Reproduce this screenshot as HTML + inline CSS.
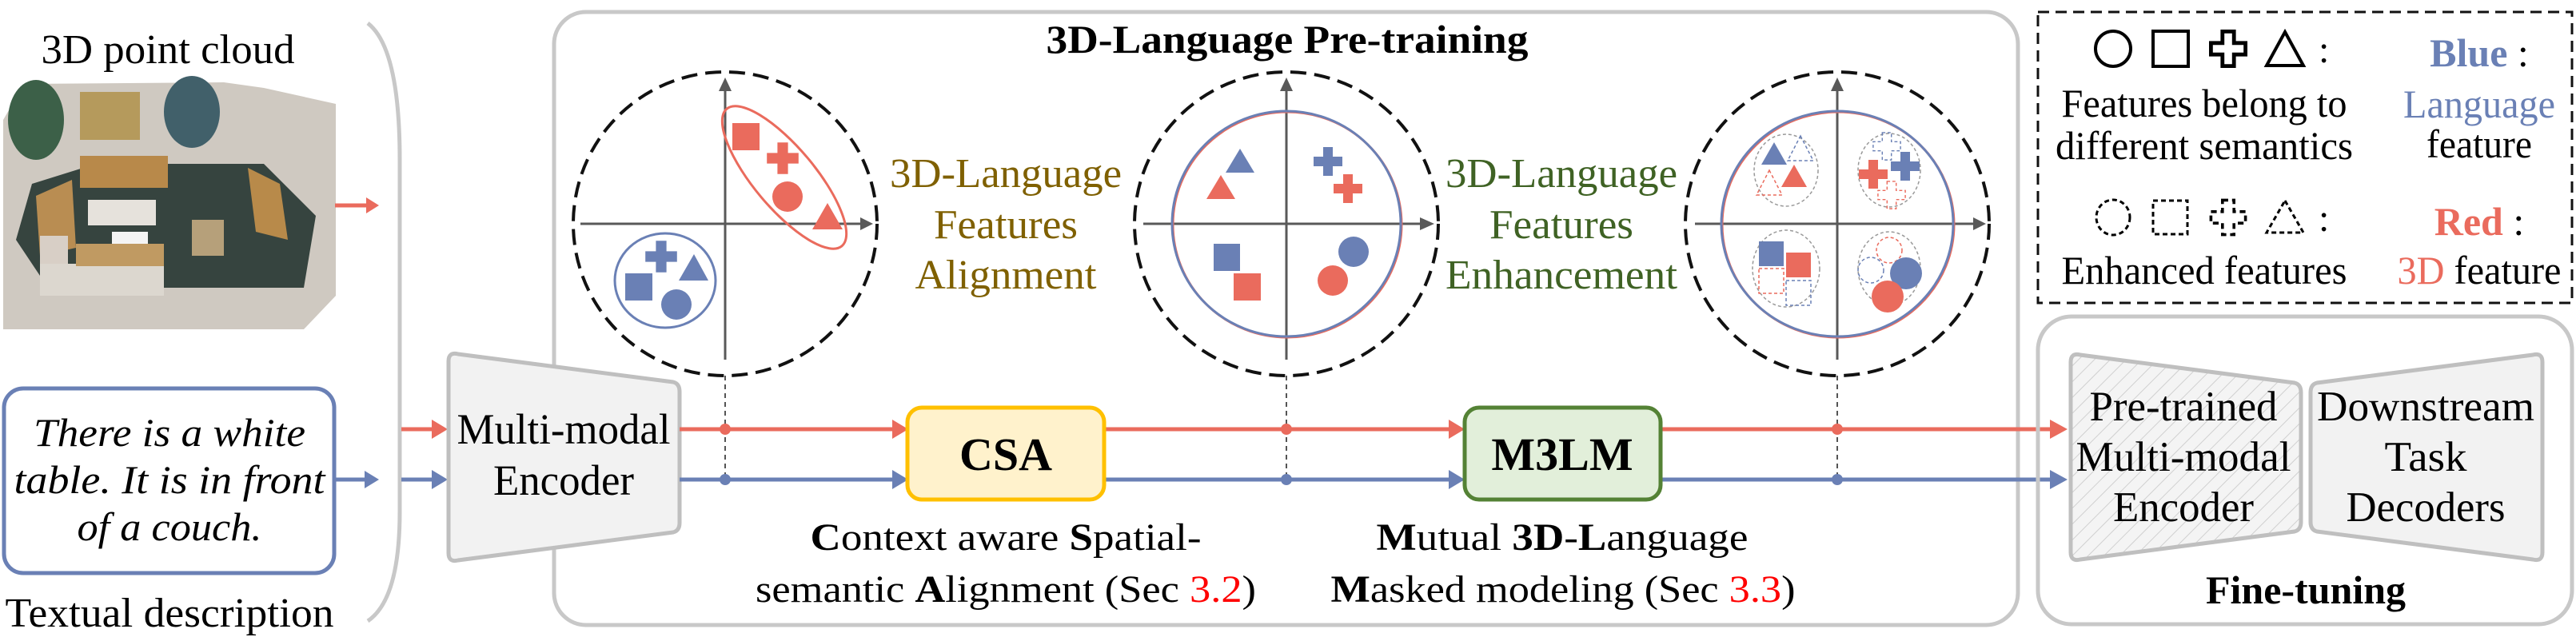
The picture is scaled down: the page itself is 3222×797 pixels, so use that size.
<!DOCTYPE html>
<html><head><meta charset="utf-8"><style>
html,body{margin:0;padding:0;background:#fff;}
svg{display:block;}
svg text{font-family:"Liberation Serif","Times New Roman","Tinos","Noto Serif CJK SC","DejaVu Serif",serif;}
</style></head><body>
<svg width="3222" height="797" viewBox="0 0 3222 797" xmlns="http://www.w3.org/2000/svg">
<defs>
<path id="cr" d="M-6,-18 h12 v12 h12 v12 h-12 v12 h-12 v-12 h-12 v-12 h12z"/>
<pattern id="hatch" width="14" height="14" patternUnits="userSpaceOnUse" patternTransform="rotate(45)">
<rect width="14" height="14" fill="#f4f4f4"/><line x1="0" y1="0" x2="0" y2="14" stroke="#d0d0d0" stroke-width="2"/></pattern>
</defs>

<text x="210" y="79" font-size="52" text-anchor="middle" textLength="317" lengthAdjust="spacingAndGlyphs">3D point cloud</text>
<g>
<polygon points="4,150 30,105 280,103 330,110 420,130 420,370 380,412 4,412" fill="#cfc9c1"/>
<rect x="100" y="115" width="75" height="60" fill="#b59a5c"/>
<polygon points="40,230 120,205 330,205 395,270 380,360 60,360 20,300" fill="#36443f"/>
<rect x="100" y="195" width="110" height="40" fill="#b8894a"/>
<polygon points="45,245 90,225 95,310 50,320" fill="#b98d52"/>
<polygon points="310,210 350,230 360,300 320,290" fill="#b88a4a"/>
<rect x="110" y="250" width="85" height="32" fill="#e6e2dc"/>
<rect x="140" y="290" width="45" height="25" fill="#f4f4f4"/>
<rect x="50" y="295" width="35" height="45" fill="#d8cfc6"/>
<rect x="240" y="275" width="40" height="45" fill="#b6a07a"/>
<rect x="50" y="330" width="155" height="40" fill="#dcd7cf"/>
<rect x="95" y="305" width="110" height="28" fill="#c09a62"/>
<ellipse cx="45" cy="150" rx="35" ry="50" fill="#3c6048"/>
<ellipse cx="240" cy="140" rx="35" ry="45" fill="#41606a"/>
</g>
<line x1="419" y1="257" x2="462" y2="257" stroke="#ea6b5d" stroke-width="5"/>
<polygon points="458,247 474,257 458,267" fill="#ea6b5d"/>

<path d="M460,29 Q500,60 500,200 L500,640 Q500,750 460,777" fill="none" stroke="#c8c8c8" stroke-width="5"/>

<rect x="5" y="486" width="413" height="231" rx="24" fill="#fff" stroke="#6a80b5" stroke-width="5"/>
<g font-size="50" font-style="italic" text-anchor="middle">
<text x="212" y="558" textLength="340" lengthAdjust="spacingAndGlyphs">There is a white</text>
<text x="212" y="617" textLength="389" lengthAdjust="spacingAndGlyphs">table. It is in front</text>
<text x="212" y="676" textLength="231" lengthAdjust="spacingAndGlyphs">of a couch.</text>
</g>
<line x1="418" y1="600" x2="462" y2="600" stroke="#6a80b5" stroke-width="5"/>
<polygon points="456,589 474,600 456,611" fill="#6a80b5"/>
<text x="212" y="784" font-size="52" text-anchor="middle" textLength="411" lengthAdjust="spacingAndGlyphs">Textual description</text>

<rect x="693" y="15" width="1831" height="767" rx="40" fill="none" stroke="#c8c8c8" stroke-width="5"/>
<text x="1610" y="66" font-size="50" font-weight="bold" text-anchor="middle" textLength="603" lengthAdjust="spacingAndGlyphs">3D-Language Pre-training</text>

<line x1="502" y1="537" x2="548" y2="537" stroke="#ea6b5d" stroke-width="5"/>
<polygon points="540,525 560,537 540,549" fill="#ea6b5d"/>
<line x1="502" y1="600" x2="548" y2="600" stroke="#6a80b5" stroke-width="5"/>
<polygon points="540,588 560,600 540,612" fill="#6a80b5"/>
<path d="M561,452 Q561,440 573,443 L842,478 Q850,480 850,490 L850,654 Q850,664 842,666 L573,701 Q561,704 561,692 Z" fill="#f2f2f2" stroke="#bfbfbf" stroke-width="5"/>
<g font-size="54" text-anchor="middle">
<text x="705" y="555" textLength="267" lengthAdjust="spacingAndGlyphs">Multi-modal</text>
<text x="705" y="619" textLength="176" lengthAdjust="spacingAndGlyphs">Encoder</text>
</g>

<line x1="850" y1="537" x2="1122" y2="537" stroke="#ea6b5d" stroke-width="5"/>
<polygon points="1116,525 1136,537 1116,549" fill="#ea6b5d"/>
<line x1="850" y1="600" x2="1122" y2="600" stroke="#6a80b5" stroke-width="5"/>
<polygon points="1116,588 1136,600 1116,612" fill="#6a80b5"/>
<line x1="1381" y1="537" x2="1820" y2="537" stroke="#ea6b5d" stroke-width="5"/>
<polygon points="1812,525 1832,537 1812,549" fill="#ea6b5d"/>
<line x1="1381" y1="600" x2="1820" y2="600" stroke="#6a80b5" stroke-width="5"/>
<polygon points="1812,588 1832,600 1812,612" fill="#6a80b5"/>
<line x1="2077" y1="537" x2="2572" y2="537" stroke="#ea6b5d" stroke-width="5"/>
<polygon points="2564,525 2586,537 2564,549" fill="#ea6b5d"/>
<line x1="2077" y1="600" x2="2572" y2="600" stroke="#6a80b5" stroke-width="5"/>
<polygon points="2564,588 2586,600 2564,612" fill="#6a80b5"/>

<g stroke="#555" stroke-width="2" stroke-dasharray="6,5">
<line x1="907" y1="470" x2="907" y2="600"/>
<line x1="1609" y1="470" x2="1609" y2="600"/>
<line x1="2298" y1="470" x2="2298" y2="600"/>
</g>
<circle cx="907" cy="537" r="7" fill="#ea6b5d"/><circle cx="907" cy="600" r="7" fill="#6a80b5"/>
<circle cx="1609" cy="537" r="7" fill="#ea6b5d"/><circle cx="1609" cy="600" r="7" fill="#6a80b5"/>
<circle cx="2298" cy="537" r="7" fill="#ea6b5d"/><circle cx="2298" cy="600" r="7" fill="#6a80b5"/>

<rect x="1135" y="510" width="246" height="115" rx="18" fill="#fff2cc" stroke="#ffc000" stroke-width="5"/>
<rect x="1832" y="510" width="245" height="115" rx="18" fill="#e2efda" stroke="#548235" stroke-width="5"/>
<g font-size="58" font-weight="bold" text-anchor="middle">
<text x="1258" y="588">CSA</text>
<text x="1954" y="588">M3LM</text>
</g>

<g font-size="48" text-anchor="middle">
<text x="1258" y="688" textLength="489" lengthAdjust="spacingAndGlyphs"><tspan font-weight="bold">C</tspan>ontext aware <tspan font-weight="bold">S</tspan>patial-</text>
<text x="1258" y="753" textLength="626" lengthAdjust="spacingAndGlyphs">semantic <tspan font-weight="bold">A</tspan>lignment (Sec <tspan fill="#ff0000">3.2</tspan>)</text>
<text x="1954" y="688" textLength="465" lengthAdjust="spacingAndGlyphs"><tspan font-weight="bold">M</tspan>utual <tspan font-weight="bold">3D</tspan>-<tspan font-weight="bold">L</tspan>anguage</text>
<text x="1955" y="753" textLength="581" lengthAdjust="spacingAndGlyphs"><tspan font-weight="bold">M</tspan>asked modeling (Sec <tspan fill="#ff0000">3.3</tspan>)</text>
</g>

<g font-size="52" text-anchor="middle" fill="#7f6000">
<text x="1258" y="234" textLength="290" lengthAdjust="spacingAndGlyphs">3D-Language</text>
<text x="1258" y="298" textLength="180" lengthAdjust="spacingAndGlyphs">Features</text>
<text x="1258" y="361" textLength="227" lengthAdjust="spacingAndGlyphs">Alignment</text>
</g>
<g font-size="52" text-anchor="middle" fill="#3f6224">
<text x="1953" y="234" textLength="290" lengthAdjust="spacingAndGlyphs">3D-Language</text>
<text x="1953" y="298" textLength="180" lengthAdjust="spacingAndGlyphs">Features</text>
<text x="1953" y="361" textLength="290" lengthAdjust="spacingAndGlyphs">Enhancement</text>
</g>

<circle cx="907" cy="280" r="190" fill="none" stroke="#111" stroke-width="4" stroke-dasharray="20,10"/>
<g stroke="#595959" stroke-width="3">
<line x1="907" y1="112" x2="907" y2="450"/><line x1="726" y1="280" x2="1078" y2="280"/>
</g>
<polygon points="899,114 907,97 915,114" fill="#595959"/><polygon points="1076,272 1092,280 1076,288" fill="#595959"/>
<ellipse cx="981" cy="222" rx="112" ry="38" transform="rotate(50 981 222)" fill="none" stroke="#ea6b5d" stroke-width="3"/>
<g fill="#ea6b5d">
<rect x="916" y="154" width="34" height="34"/>
<use href="#cr" transform="translate(979,198) scale(1.1)"/>
<circle cx="985" cy="246" r="19"/>
<polygon points="1035,254 1054,287 1016,287"/>
</g>
<ellipse cx="832" cy="351" rx="63" ry="59" fill="none" stroke="#6a80b5" stroke-width="3"/>
<g fill="#6a80b5">
<use href="#cr" transform="translate(827,321) scale(1.1)"/>
<polygon points="868,318 886,351 849,351"/>
<rect x="782" y="342" width="34" height="34"/>
<circle cx="846" cy="381" r="19"/>
</g>

<circle cx="1609" cy="280" r="190" fill="none" stroke="#111" stroke-width="4" stroke-dasharray="20,10"/>
<g stroke="#595959" stroke-width="3">
<line x1="1609" y1="112" x2="1609" y2="450"/><line x1="1430" y1="280" x2="1780" y2="280"/>
</g>
<polygon points="1601,114 1609,97 1617,114" fill="#595959"/><polygon points="1776,272 1794,280 1776,288" fill="#595959"/>
<ellipse cx="1610" cy="281" rx="143" ry="141" fill="none" stroke="#ea6b5d" stroke-width="3"/>
<ellipse cx="1609" cy="280" rx="143" ry="141" fill="none" stroke="#6a80b5" stroke-width="3"/>
<polygon points="1551,186 1569,216 1533,216" fill="#6a80b5"/>
<polygon points="1527,219 1545,249 1509,249" fill="#ea6b5d"/>
<use href="#cr" transform="translate(1661,202)" fill="#6a80b5"/>
<use href="#cr" transform="translate(1686,236)" fill="#ea6b5d"/>
<rect x="1518" y="305" width="33" height="34" fill="#6a80b5"/>
<rect x="1543" y="342" width="34" height="34" fill="#ea6b5d"/>
<circle cx="1693" cy="315" r="19" fill="#6a80b5"/>
<circle cx="1667" cy="351" r="19" fill="#ea6b5d"/>

<circle cx="2298" cy="280" r="190" fill="none" stroke="#111" stroke-width="4" stroke-dasharray="20,10"/>
<g stroke="#595959" stroke-width="3">
<line x1="2298" y1="112" x2="2298" y2="450"/><line x1="2120" y1="280" x2="2470" y2="280"/>
</g>
<polygon points="2290,114 2298,97 2306,114" fill="#595959"/><polygon points="2468,272 2484,280 2468,288" fill="#595959"/>
<ellipse cx="2299" cy="281" rx="145" ry="141" fill="none" stroke="#ea6b5d" stroke-width="3"/>
<ellipse cx="2298" cy="280" rx="145" ry="141" fill="none" stroke="#6a80b5" stroke-width="3"/>
<g fill="none" stroke="#999" stroke-width="1.5" stroke-dasharray="4,3">
<ellipse cx="2234" cy="213" rx="40" ry="45"/><ellipse cx="2363" cy="213" rx="39" ry="46"/>
<ellipse cx="2234" cy="336" rx="42" ry="48"/><ellipse cx="2363" cy="336" rx="39" ry="46"/>
</g>
<polygon points="2219,178 2235,206 2203,206" fill="#6a80b5"/>
<polygon points="2252,170 2268,201 2236,201" fill="none" stroke="#6a80b5" stroke-width="1.5" stroke-dasharray="4,3"/>
<polygon points="2213,213 2229,244 2197,244" fill="none" stroke="#ea6b5d" stroke-width="1.5" stroke-dasharray="4,3"/>
<polygon points="2244,206 2260,234 2228,234" fill="#ea6b5d"/>
<use href="#cr" transform="translate(2360,183) scale(0.95)" fill="none" stroke="#6a80b5" stroke-width="1.5" stroke-dasharray="4,3"/>
<use href="#cr" transform="translate(2343,218)" fill="#ea6b5d"/>
<use href="#cr" transform="translate(2383,208)" fill="#6a80b5"/>
<use href="#cr" transform="translate(2366,244) scale(0.95)" fill="none" stroke="#ea6b5d" stroke-width="1.5" stroke-dasharray="4,3"/>
<rect x="2200" y="302" width="31" height="31" fill="#6a80b5"/>
<rect x="2234" y="316" width="31" height="31" fill="#ea6b5d"/>
<rect x="2200" y="336" width="31" height="31" fill="none" stroke="#ea6b5d" stroke-width="1.5" stroke-dasharray="4,3"/>
<rect x="2234" y="351" width="31" height="31" fill="none" stroke="#6a80b5" stroke-width="1.5" stroke-dasharray="4,3"/>
<circle cx="2363" cy="313" r="16" fill="none" stroke="#ea6b5d" stroke-width="1.5" stroke-dasharray="4,3"/>
<circle cx="2340" cy="338" r="16" fill="none" stroke="#6a80b5" stroke-width="1.5" stroke-dasharray="4,3"/>
<circle cx="2384" cy="342" r="20" fill="#6a80b5"/>
<circle cx="2361" cy="371" r="20" fill="#ea6b5d"/>

<rect x="2549" y="15" width="668" height="364" fill="none" stroke="#111" stroke-width="3" stroke-dasharray="14,8"/>
<g fill="none" stroke="#000" stroke-width="4">
<ellipse cx="2643" cy="61" rx="22" ry="22"/>
<rect x="2693" y="39" width="44" height="44"/>
<use href="#cr" transform="translate(2787,61) scale(1.2)"/>
<polygon points="2858,40 2881,82 2835,82"/>
</g>
<g fill="none" stroke="#000" stroke-width="3" stroke-dasharray="6,4">
<ellipse cx="2643" cy="272" rx="21" ry="22"/>
<rect x="2693" y="251" width="43" height="42"/>
<use href="#cr" transform="translate(2787,272) scale(1.2)"/>
<polygon points="2858,251 2881,291 2835,291"/>
</g>
<g font-size="48">
<text x="2900" y="78">:</text>
<text x="2900" y="289">:</text>
</g>
<g font-size="50" text-anchor="middle">
<text x="2757" y="146" textLength="357" lengthAdjust="spacingAndGlyphs">Features belong to</text>
<text x="2757" y="199" textLength="372" lengthAdjust="spacingAndGlyphs">different semantics</text>
<text x="2757" y="355" textLength="357" lengthAdjust="spacingAndGlyphs">Enhanced features</text>
<text x="3101" y="83"><tspan fill="#6a80b5" font-weight="bold">Blue</tspan> :</text>
<text x="3101" y="147" fill="#6a80b5" textLength="190" lengthAdjust="spacingAndGlyphs">Language</text>
<text x="3101" y="197" textLength="132" lengthAdjust="spacingAndGlyphs">feature</text>
<text x="3101" y="294"><tspan fill="#ea6b5d" font-weight="bold">Red</tspan> :</text>
<text x="3101" y="355" textLength="205" lengthAdjust="spacingAndGlyphs"><tspan fill="#ea6b5d">3D</tspan> feature</text>
</g>

<rect x="2549" y="396" width="668" height="385" rx="42" fill="none" stroke="#c8c8c8" stroke-width="5"/>
<path d="M2590,453 Q2590,441 2602,444 L2870,479 Q2878,481 2878,491 L2878,653 Q2878,663 2870,665 L2602,700 Q2590,703 2590,691 Z" fill="url(#hatch)" stroke="#bfbfbf" stroke-width="5"/>
<path d="M3180,453 Q3180,441 3168,444 L2898,479 Q2890,481 2890,491 L2890,653 Q2890,663 2898,665 L3168,700 Q3180,703 3180,691 Z" fill="#f2f2f2" stroke="#bfbfbf" stroke-width="5"/>
<g font-size="53" text-anchor="middle">
<text x="2731" y="526" textLength="235" lengthAdjust="spacingAndGlyphs">Pre-trained</text>
<text x="2731" y="589" textLength="269" lengthAdjust="spacingAndGlyphs">Multi-modal</text>
<text x="2731" y="652" textLength="176" lengthAdjust="spacingAndGlyphs">Encoder</text>
<text x="3034" y="526" textLength="272" lengthAdjust="spacingAndGlyphs">Downstream</text>
<text x="3034" y="589" textLength="103" lengthAdjust="spacingAndGlyphs">Task</text>
<text x="3034" y="652" textLength="199" lengthAdjust="spacingAndGlyphs">Decoders</text>
</g>
<text x="2884" y="755" font-size="50" font-weight="bold" text-anchor="middle">Fine-tuning</text>
</svg>
</body></html>
